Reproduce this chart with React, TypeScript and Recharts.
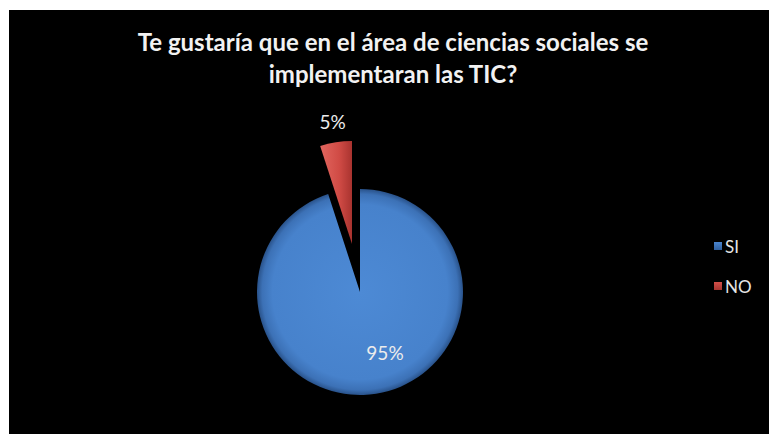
import React from 'react';
import { PieChart, Pie, Cell, Legend } from 'recharts';

const categories = ['SI', 'NO'];
const values = [95, 5];
const percentLabels = ['95%', '5%'];
const titleLines = ['Te gustaría que en el área de ciencias sociales se', 'implementaran las TIC?'];
const legendColors = ['#4a85cf', '#d2504a'];

const data = categories.map((name, i) => ({ name, value: values[i], label: percentLabels[i] }));

const RAD = Math.PI / 180;
const FONT = 'Lato, "Open Sans", sans-serif';

const labelSI = (p: any) => {
  if (p.index !== 0) return null;
  const r = p.outerRadius * 0.62;
  const x = p.cx + r * Math.cos(-p.midAngle * RAD) + 15;
  const y = p.cy + r * Math.sin(-p.midAngle * RAD) - 3;
  return (
    <text x={x} y={y} fill="#ececec" fontSize={19} fontFamily={FONT} textAnchor="middle" dominantBaseline="central">
      {data[p.index].label}
    </text>
  );
};

const labelNO = (p: any) => {
  if (p.index !== 1) return null;
  const r = p.outerRadius + 21;
  const x = p.cx + r * Math.cos(-p.midAngle * RAD);
  const y = p.cy + r * Math.sin(-p.midAngle * RAD);
  return (
    <text x={x} y={y} fill="#ececec" fontSize={19} fontFamily={FONT} textAnchor="middle" dominantBaseline="central">
      {data[p.index].label}
    </text>
  );
};

const renderLegend = () => (
  <div style={{ fontFamily: FONT, fontSize: 17, color: '#e6e6e6' }}>
    {categories.map((c, i) => (
      <div key={c} style={{ display: 'flex', alignItems: 'center', height: 20, marginBottom: i === 0 ? 20 : 0 }}>
        <span
          style={{
            display: 'inline-block',
            width: 8,
            height: 8,
            background: `linear-gradient(180deg, ${legendColors[i]}, ${i === 0 ? '#2f5f9e' : '#a53530'})`,
            marginRight: 3,
          }}
        />
        <span>{c}</span>
      </div>
    ))}
  </div>
);

export default function App() {
  return (
    <div style={{ position: 'absolute', left: 0, top: 0, width: 769, height: 434, background: '#ffffff', overflow: 'hidden' }}>
      <div style={{ position: 'absolute', left: 9, top: 10, width: 760, height: 424, background: '#000000' }} />
      <div
        style={{
          position: 'absolute',
          left: 9,
          top: 26,
          width: 768,
          textAlign: 'center',
          fontFamily: FONT,
          fontWeight: 700,
          fontSize: 24,
          lineHeight: '32px',
          color: '#f2f2f2',
        }}
      >
        {titleLines.map((t) => (
          <div key={t}>{t}</div>
        ))}
      </div>
      <div style={{ position: 'absolute', left: 0, top: 0 }}>
        <PieChart width={769} height={434} margin={{ top: 0, right: 0, bottom: 0, left: 0 }}>
          <defs>
            <radialGradient id="gBlue" gradientUnits="userSpaceOnUse" cx={360} cy={292} r={103}>
              <stop offset="0%" stopColor="#4d8ad5" />
              <stop offset="85%" stopColor="#4782cc" />
              <stop offset="95%" stopColor="#3c71b6" />
              <stop offset="100%" stopColor="#29528a" />
            </radialGradient>
            <linearGradient id="gRed" x1="0" y1="0" x2="1" y2="0">
              <stop offset="0%" stopColor="#e2665f" />
              <stop offset="60%" stopColor="#d04b45" />
              <stop offset="100%" stopColor="#a9332f" />
            </linearGradient>
          </defs>
          <Pie
            data={data}
            dataKey="value"
            nameKey="name"
            cx={360}
            cy={292}
            outerRadius={103}
            startAngle={90}
            endAngle={-270}
            stroke="none"
            isAnimationActive={false}
            labelLine={false}
            label={labelSI}
          >
            <Cell key="si" fill="url(#gBlue)" />
            <Cell key="no" fill="transparent" />
          </Pie>
          <Pie
            data={data}
            dataKey="value"
            nameKey="name"
            cx={352}
            cy={244}
            outerRadius={103}
            startAngle={90}
            endAngle={-270}
            stroke="none"
            isAnimationActive={false}
            labelLine={false}
            label={labelNO}
            legendType="none"
          >
            <Cell key="si2" fill="transparent" />
            <Cell key="no2" fill="url(#gRed)" />
          </Pie>
          <Legend
            layout="vertical"
            align="right"
            verticalAlign="middle"
            content={renderLegend}
            wrapperStyle={{ left: 714, top: 236, width: 50 }}
          />
        </PieChart>
      </div>
    </div>
  );
}
